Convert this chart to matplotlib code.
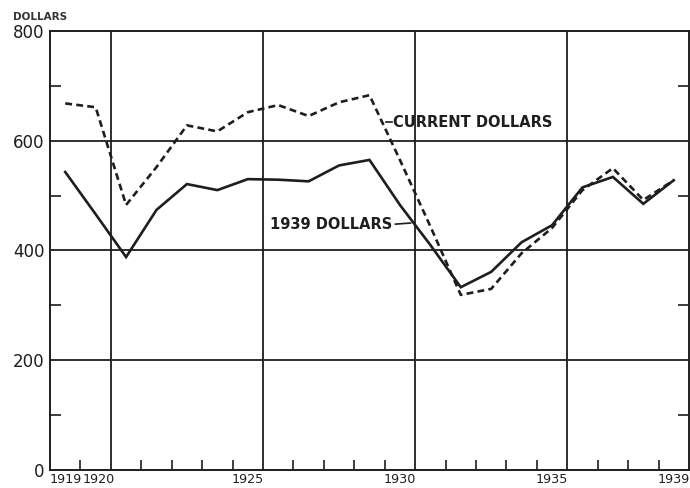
import matplotlib
matplotlib.use("Agg")
import matplotlib.pyplot as plt
from matplotlib.transforms import blended_transform_factory

years = list(range(1919, 1940))
current_dollars = [668, 661, 483, 552, 628, 617, 652, 665, 645, 670, 683,
                   565, 444, 319, 330, 395, 441, 510, 550, 492, 528]
dollars_1939 = [543, 466, 388, 474, 521, 510, 530, 529, 526, 555, 565,
                483, 410, 333, 361, 415, 446, 515, 534, 485, 528]
year_labels = [1919, 1920, 1925, 1930, 1935, 1939]
y_labels = [0, 200, 400, 600, 800]

ink = "#1e1e1e"
fig = plt.figure(figsize=(6.9, 4.88), dpi=100, facecolor="white")
ax = fig.add_axes([0.0725, 0.037, 0.926, 0.8995])
ax.set_xlim(1918.5, 1939.5)
ax.set_ylim(0, 800)

# grid
for y in [200, 400, 600]:
    ax.axhline(y, color=ink, lw=1.3, zorder=1)
for x in [1920.5, 1925.5, 1930.5, 1935.5]:
    ax.axvline(x, color=ink, lw=1.3, zorder=1)

ax.plot(years, dollars_1939, color=ink, lw=1.9, zorder=3, solid_joinstyle="miter")
ax.plot(years, current_dollars, color=ink, lw=1.9, zorder=3,
        linestyle=(0, (2.6, 1.6)))

for s in ax.spines.values():
    s.set_color(ink)
    s.set_linewidth(1.4)

ax.set_xticks([])
minor_x = [y + 0.5 for y in range(1919, 1939) if y + 0.5 not in (1920.5, 1925.5, 1930.5, 1935.5)]
ax.set_xticks(minor_x, minor=True)
ax.tick_params(axis="x", which="minor", direction="in", length=7, width=1.2,
               color=ink, labelbottom=False)

trans = blended_transform_factory(ax.transData, ax.transAxes)
label_shift = {1920: 0.1}
for yr in year_labels:
    ax.text(yr + label_shift.get(yr, 0.0), -0.006, str(yr), transform=trans,
            fontsize=9.2, color=ink, ha="center", va="top")

ax.set_yticks(y_labels)
ax.set_yticklabels([str(v) for v in y_labels], fontsize=12, color=ink)
ax.tick_params(axis="y", which="major", length=0, pad=4)
ax.set_yticks([100, 300, 500, 700], minor=True)
ax.tick_params(axis="y", which="minor", direction="in", length=8, width=1.2,
               color=ink, left=True, right=True)

ax.text(-0.058, 1.02, "DOLLARS", transform=ax.transAxes, fontsize=7.5,
        fontweight="bold", color="#333333", ha="left", va="bottom")

ax.text(1925.73, 448, "1939 DOLLARS", fontsize=10.5, fontweight="bold",
        color=ink, ha="left", va="center", zorder=4)
ax.plot([1929.85, 1930.35], [448, 450], color=ink, lw=1.2, zorder=4)

ax.text(1929.78, 634, "CURRENT DOLLARS", fontsize=10.5, fontweight="bold",
        color=ink, ha="left", va="center", zorder=4)
ax.plot([1929.55, 1929.75], [634, 634], color=ink, lw=1.2, zorder=4)

fig.savefig("out.png", dpi=100, facecolor="white")
